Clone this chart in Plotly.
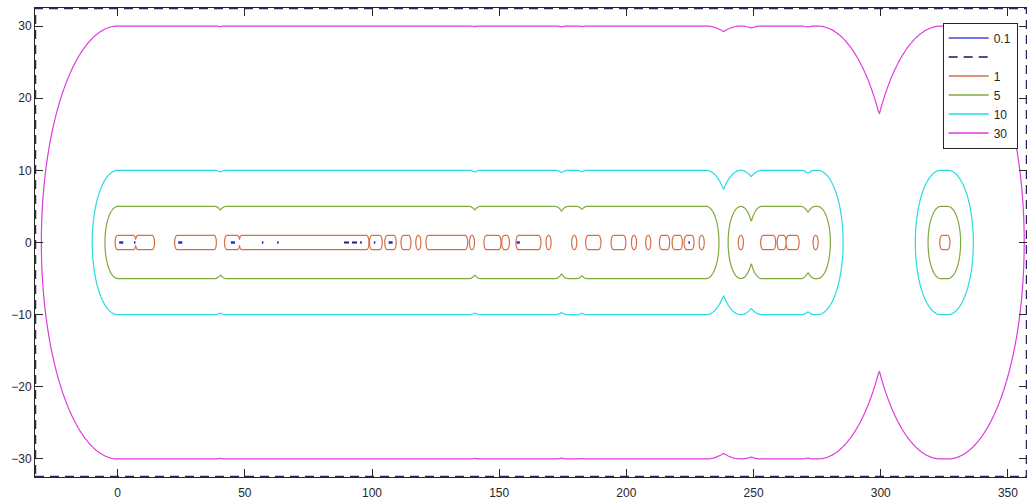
import numpy as np
import plotly.graph_objects as go

# ---- data ----
x_min, x_max = -32.5, 357.5
y_min, y_max = -32.5, 32.5

# inner pattern (level 1): source segments on y = 0 (start == end -> single point)
blob_start = [0.0, 8.0, 23.4, 43.0, 48.8, 100.0, 106.0, 112.4, 118.2, 122.2, 139.3, 145.0, 152.0,
              157.6, 169.4, 179.5, 185.0, 195.0, 203.0, 208.6, 214.0, 219.0, 223.7, 229.6,
              245.0, 253.8, 260.3, 263.8, 274.4, 324.2]
blob_end = [6.2, 13.5, 37.8, 47.0, 97.8, 103.0, 108.5, 114.3, 118.2, 136.6, 139.3, 149.7, 153.0,
            165.4, 169.4, 179.5, 189.0, 198.8, 203.0, 208.6, 216.0, 221.0, 225.6, 229.6,
            245.0, 257.7, 261.8, 266.9, 274.4, 326.2]

# outer pattern (levels 5, 10, 30): track segments on y = 0
track_start = [0.0, 42.6, 142.6, 177.0, 184.5, 245.0, 253.2, 274.2, 323.6]
track_end = [38.2, 138.2, 172.0, 180.5, 231.4, 245.0, 268.6, 275.2, 326.4]

levels = [1, 5, 10, 30]
level_names = ["1", "5", "10", "30"]
level_colors = ["rgb(212,112,72)", "rgb(128,168,64)", "rgb(40,218,228)", "rgb(222,60,222)"]

# tiny 0.1-level marks
dot_x = [1.4, 6.7, 24.6, 45.3, 57.0, 63.0, 101.0, 107.3, 157.5, 224.7]
dot_half = [0.8, 0.3, 0.8, 0.8, 0.3, 0.3, 0.3, 0.8, 0.6, 0.3]
# dashed series
dash_x = [89.0, 96.0]

xticks = [0, 50, 100, 150, 200, 250, 300, 350]
yticks = [-30, -20, -10, 0, 10, 20, 30]


def dist_field(xs, ys, starts, ends):
    X, Y = np.meshgrid(xs, ys)
    d = np.full(X.shape, np.inf)
    for a, b in zip(starts, ends):
        dx = np.maximum(np.maximum(a - X, X - b), 0.0)
        d = np.minimum(d, np.sqrt(dx * dx + Y * Y))
    return d.astype(np.float32)


grids = {
    1: (np.arange(-2.0, 330.0, 0.1), np.arange(-1.5, 1.5001, 0.05), blob_start, blob_end),
    5: (np.arange(-7.0, 333.0, 0.25), np.arange(-6.0, 6.001, 0.2), track_start, track_end),
    10: (np.arange(-12.0, 338.0, 0.25), np.arange(-11.0, 11.001, 0.25), track_start, track_end),
    30: (np.arange(x_min, x_max + 0.001, 0.5), np.arange(y_min, y_max + 0.001, 0.25), track_start, track_end),
}

fig = go.Figure()

for lev, col in zip(levels, level_colors):
    xs, ys, s, e = grids[lev]
    fig.add_trace(go.Contour(
        x=xs, y=ys, z=dist_field(xs, ys, s, e),
        autocontour=False,
        contours=dict(start=lev, end=lev, size=1, coloring="none", showlabels=False),
        line=dict(color=col, width=1.2),
        showscale=False, hoverinfo="skip", showlegend=False,
    ))

# 0.1 marks
bx, by = [], []
for xc, h in zip(dot_x, dot_half):
    bx += [xc - h, xc + h, None]
    by += [0, 0, None]
fig.add_trace(go.Scatter(x=bx, y=by, mode="lines", line=dict(color="rgb(40,40,220)", width=2.5),
                         showlegend=False, hoverinfo="skip"))

# dashed series: small segment plus the domain frame
fig.add_trace(go.Scatter(x=dash_x, y=[0, 0], mode="lines",
                         line=dict(color="rgb(30,30,120)", width=2, dash="5px,3px"),
                         showlegend=False, hoverinfo="skip"))
fig.add_trace(go.Scatter(x=[x_min, x_max, x_max, x_min, x_min], y=[y_min, y_min, y_max, y_max, y_min],
                         mode="lines", line=dict(color="rgb(40,40,100)", width=2.5, dash="9px,6px"),
                         showlegend=False, hoverinfo="skip"))

# legend entries
legend_items = [("0.1", "rgb(70,70,225)", "solid"), (" ", "rgb(20,20,90)", "9px,6px")]
legend_items += [(n, c, "solid") for n, c in zip(level_names, level_colors)]
for name, col, dsh in legend_items:
    fig.add_trace(go.Scatter(x=[None], y=[None], mode="lines", name=name,
                             line=dict(color=col, width=1.5, dash=dsh)))

axis_common = dict(showgrid=False, zeroline=False, showline=True, linecolor="#262626", linewidth=1,
                   mirror="ticks", ticks="inside", ticklen=8, tickcolor="#262626", tickwidth=1,
                   tickfont=dict(family="Arial, Liberation Sans", size=12, color="#262626"))

fig.update_layout(
    width=1027, height=504,
    margin=dict(l=35, r=0, t=8, b=27),
    paper_bgcolor="white", plot_bgcolor="white",
    xaxis=dict(range=[x_min, x_max], tickvals=xticks, ticklabelstandoff=5, **axis_common),
    yaxis=dict(range=[y_min, y_max], tickvals=yticks, **axis_common),
    legend=dict(x=0.915, y=0.969, xanchor="left", yanchor="top", bgcolor="white",
                bordercolor="#262626", borderwidth=1, tracegroupgap=0, itemwidth=40,
                font=dict(family="Arial, Liberation Sans", size=12, color="#262626")),
    showlegend=True,
)

fig.write_html("out.html")
